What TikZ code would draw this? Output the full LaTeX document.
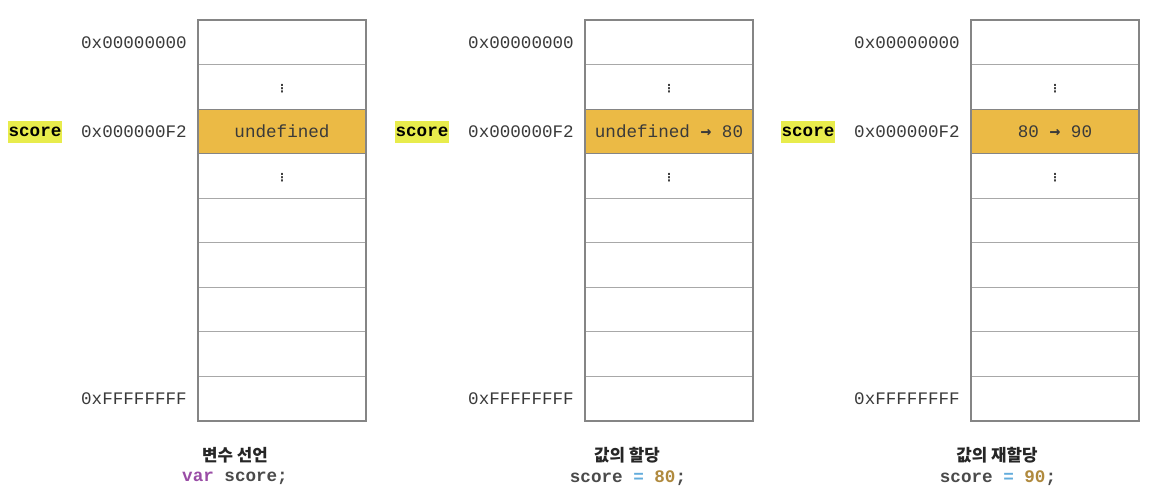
\documentclass[tikz,border=0pt]{standalone}
\usepackage{fontspec}
\setmonofont{Liberation Mono}
\newfontfamily\krfont{Noto Sans CJK KR}
\newfontfamily\arrfont{DejaVu Sans Mono}
\newfontfamily\symfont{DejaVu Sans}
\definecolor{cellgold}{HTML}{EBBA45}
\definecolor{hiyellow}{HTML}{E8EC4C}
\definecolor{bordergray}{HTML}{858585}
\definecolor{sepgray}{HTML}{A8A8A8}
\definecolor{txtgray}{HTML}{3A3A3A}
\definecolor{kwpurple}{HTML}{9A4DA6}
\definecolor{opblue}{HTML}{62ACDC}
\definecolor{numgold}{HTML}{B08A3E}
\definecolor{codegray}{HTML}{4A4A4A}
\tikzset{
  x=1pt, y=-1pt,
  celltext/.style={inner sep=1pt, font=\ttfamily\fontsize{17.6}{20}\selectfont, text=txtgray},
  dotstext/.style={inner sep=0pt, font=\symfont\bfseries\fontsize{11}{11}\selectfont, text=txtgray},
  sepline/.style={draw=sepgray, line width=1pt},
  hifill/.style={fill=cellgold, draw=bordergray, line width=1pt},
  addr/.style={anchor=east, inner sep=0pt, font=\ttfamily\fontsize{17.6}{20}\selectfont, text=txtgray},
  varlbl/.style={fill=hiyellow, inner xsep=1pt, minimum height=22pt, font=\ttfamily\bfseries\fontsize{17.6}{20}\selectfont, text=black},
  captitle/.style={inner sep=0pt, font=\krfont\bfseries\fontsize{16.8}{19}\selectfont, text=black!85},
  capcode/.style={inner sep=0pt, font=\ttfamily\bfseries\fontsize{17.6}{20}\selectfont, text=codegray},
  outerbox/.style={draw=bordergray, line width=1.6pt}
}
\newcommand{\arr}{{\arrfont\bfseries\fontsize{18}{18}\selectfont →}}
\begin{document}
\begin{tikzpicture}
\useasboundingbox (0,0) rectangle (1166,502);
\fill[white] (0,0) rectangle (1166,502);
\def\rh{44.56}
\foreach \c/\xx in {1/198,2/585,3/971}{
  \coordinate (c\c tl) at (\xx,20);
  \coordinate (c\c br) at ({\xx+168},{20+9*\rh});
  \filldraw[hifill] (\xx,{20+2*\rh}) rectangle ({\xx+168},{20+3*\rh});
  \foreach \r in {1,4,5,6,7,8}{
    \draw[sepline] (\xx,{20+\r*\rh}) -- ({\xx+168},{20+\r*\rh});
  }
  \draw[outerbox] (c\c tl) rectangle (c\c br);
  \foreach \r in {0,...,8}{
    \coordinate (c\c m\r) at ({\xx+84},{20+(\r+0.5)*\rh});
  }
  \node[dotstext] (d\c a) at ([yshift=-2pt]c\c m1) {⋮};
  \node[dotstext] (d\c b) at ([yshift=-2pt]c\c m3) {⋮};
  \node[addr] (a\c top) at ({\xx-11},{20+0.5*\rh}) {0x00000000};
  \node[addr] (a\c mid) at ({\xx-11},{20+2.5*\rh}) {0x000000F2};
  \node[addr] (a\c bot) at ({\xx-11},{20+8.5*\rh}) {0xFFFFFFFF};
}
\node[celltext] (val1) at (c1m2) {undefined};
\node[celltext] (val2) at (c2m2) {undefined \arr{} 80};
\node[celltext] (val3) at (c3m2) {80 \arr{} 90};
\node[varlbl] (v1) at (35,132) {score};
\node[varlbl] (v2) at (422,132) {score};
\node[varlbl] (v3) at (808,132) {score};
\node[captitle] (t1) at (235,455) {변수 선언};
\node[capcode] (k1) at (235,478) {\textcolor{kwpurple}{var} score;};
\node[captitle] (t2) at (627,455) {값의 할당};
\node[capcode] (k2) at (628,478) {score \textcolor{opblue}{=} \textcolor{numgold}{80};};
\node[captitle] (t3) at (997,455) {값의 재할당};
\node[capcode] (k3) at (998,478) {score \textcolor{opblue}{=} \textcolor{numgold}{90};};
\end{tikzpicture}
\end{document}
